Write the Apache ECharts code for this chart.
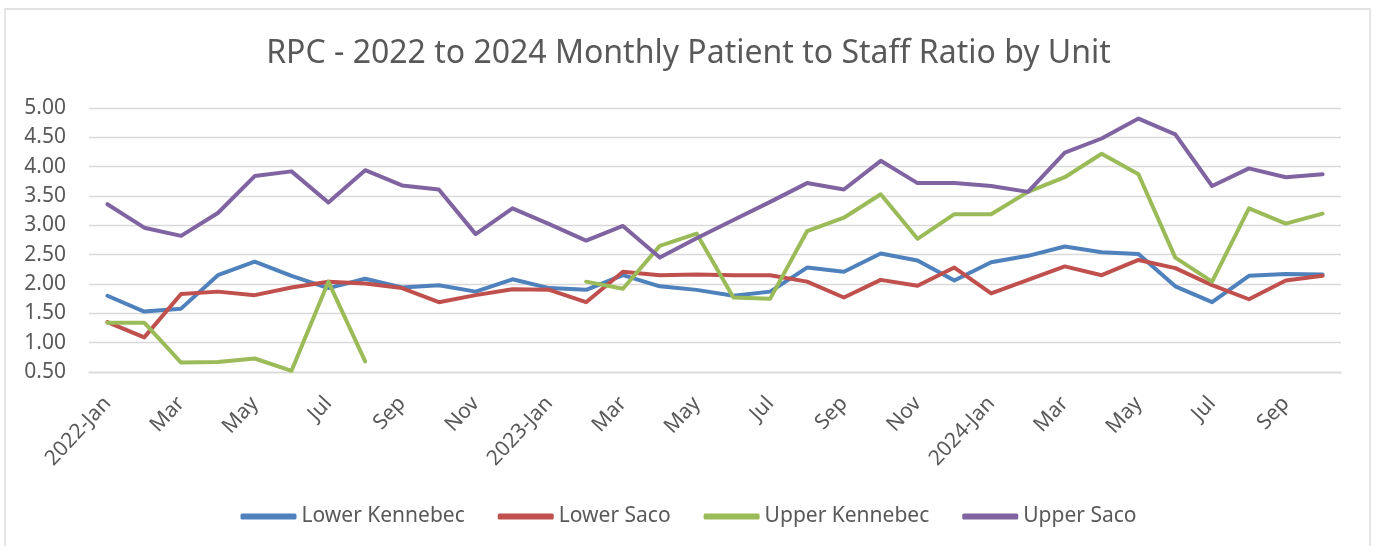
<!DOCTYPE html>
<html>
<head>
<meta charset="utf-8">
<script src="https://cdn.jsdelivr.net/npm/echarts@6/dist/echarts.min.js"></script>
<style>
  html, body { margin: 0; padding: 0; background: #fff; }
</style>
</head>
<body>
<div id="ratioChart" style="width:1377px;height:546px;"></div>
<script>
  // months, Jan 2022 .. Oct 2024
  let months = [
    '2022-Jan','Feb','Mar','Apr','May','Jun','Jul','Aug','Sep','Oct','Nov','Dec',
    '2023-Jan','Feb','Mar','Apr','May','Jun','Jul','Aug','Sep','Oct','Nov','Dec',
    '2024-Jan','Feb','Mar','Apr','May','Jun','Jul','Aug','Sep','Oct'
  ];
  let lowerKennebec = [
    1.80,1.53,1.58,2.15,2.38,2.14,1.93,2.09,1.94,1.98,1.87,2.08,
    1.93,1.90,2.15,1.96,1.90,1.80,1.87,2.28,2.21,2.52,2.40,2.06,
    2.37,2.48,2.64,2.54,2.51,1.96,1.69,2.14,2.17,2.16
  ];
  let lowerSaco = [
    1.35,1.09,1.83,1.87,1.81,1.94,2.04,2.01,1.93,1.69,1.81,1.91,
    1.90,1.69,2.21,2.15,2.16,2.15,2.15,2.04,1.77,2.07,1.97,2.28,
    1.84,2.07,2.30,2.15,2.41,2.27,1.98,1.74,2.06,2.14
  ];
  let upperKennebec = [
    1.34,1.34,0.66,0.67,0.73,0.52,2.04,0.68,null,null,null,null,
    null,2.04,1.92,2.65,2.86,1.77,1.75,2.90,3.13,3.53,2.77,3.19,
    3.19,3.57,3.82,4.22,3.87,2.45,2.04,3.29,3.03,3.20
  ];
  let upperSaco = [
    3.36,2.96,2.82,3.21,3.84,3.92,3.39,3.94,3.68,3.61,2.85,3.29,
    3.02,2.74,2.99,2.45,2.78,3.09,3.40,3.72,3.61,4.10,3.72,3.72,
    3.67,3.57,4.24,4.48,4.82,4.55,3.67,3.97,3.82,3.87
  ];
  let seriesNames = ['Lower Kennebec','Lower Saco','Upper Kennebec','Upper Saco'];
  let seriesColors = ['#4f81bd','#c0504d','#9bbb59','#8064a2'];

  let textColor = '#595959';
  let font = 'Noto Sans';

  let ratioChart = echarts.init(document.getElementById('ratioChart'));

  let lines = [lowerKennebec, lowerSaco, upperKennebec, upperSaco].map((values, i) => {
    return {
      name: seriesNames[i],
      type: 'line',
      data: values,
      symbol: 'none',
      connectNulls: false,
      color: seriesColors[i],
      lineStyle: { width: 4, cap: 'round', join: 'round' }
    };
  });

  let ratioOption = {
    backgroundColor: '#fff',
    animation: false,
    color: seriesColors,
    // chart-area frame
    graphic: [{
      type: 'rect',
      shape: { x: 5, y: 9, width: 1365, height: 560 },
      style: { fill: 'none', stroke: '#d9d9d9', lineWidth: 1.3 }
    }],
    title: {
      text: 'RPC - 2022 to 2024 Monthly Patient to Staff Ratio by Unit',
      left: 'center',
      top: 33,
      textStyle: { fontFamily: font, fontSize: 32, fontWeight: 'normal', color: textColor }
    },
    legend: {
      data: seriesNames,
      left: 'center',
      top: 501,
      icon: 'roundRect',
      itemWidth: 56,
      itemHeight: 6,
      itemGap: 33,
      textStyle: { fontFamily: font, fontSize: 21, color: textColor }
    },
    grid: { left: 89, right: 36, top: 108, bottom: 174 },
    xAxis: {
      type: 'category',
      data: months,
      boundaryGap: true,
      axisLine: { show: true, lineStyle: { color: '#d9d9d9', width: 1.3 } },
      axisTick: { show: false },
      axisLabel: {
        interval: 1,
        rotate: 47,
        margin: 28,
        fontFamily: font,
        fontSize: 21,
        color: textColor
      }
    },
    yAxis: {
      type: 'value',
      min: 0.5,
      max: 5,
      interval: 0.5,
      axisLine: { show: false },
      axisTick: { show: false },
      axisLabel: {
        margin: 23,
        fontFamily: font,
        fontSize: 21,
        color: textColor,
        formatter: v => v.toFixed(2)
      },
      splitLine: { lineStyle: { color: '#d9d9d9', width: 1.3 } }
    },
    series: lines
  };
  ratioChart.setOption(ratioOption);
</script>
</body>
</html>
